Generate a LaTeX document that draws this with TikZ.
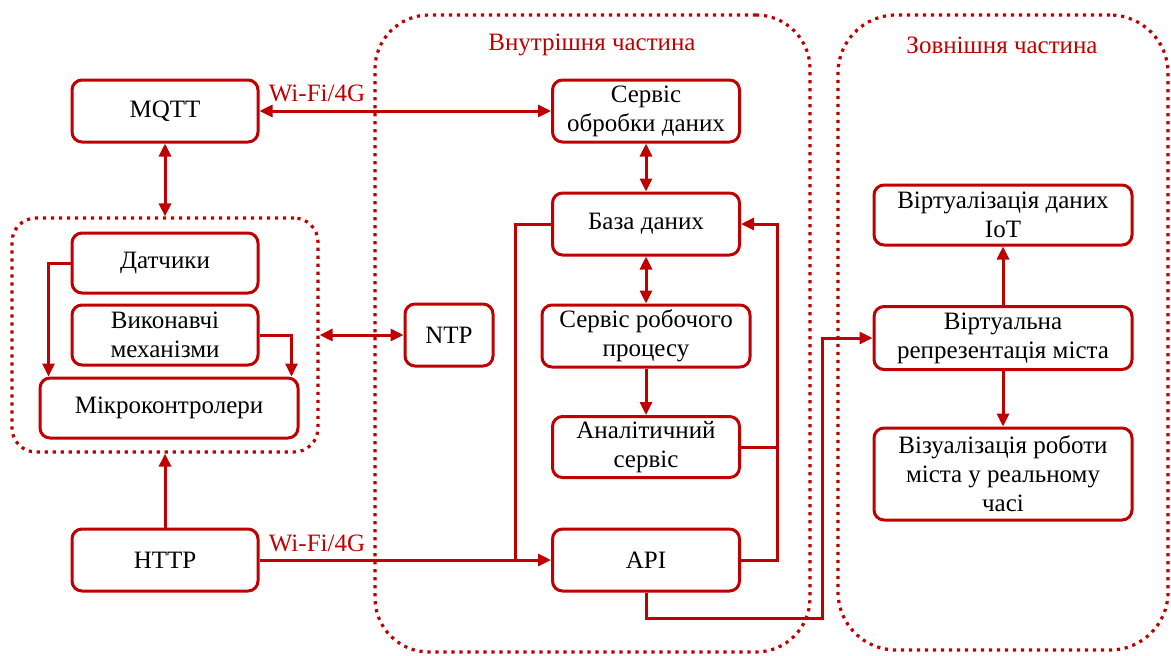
\documentclass[tikz,border=0pt]{standalone}
\usepackage{fontspec}
\setmainfont{Liberation Serif}
\usetikzlibrary{arrows.meta,calc}
\definecolor{dred}{RGB}{192,0,0}
\tikzset{
  box/.style={draw=dred, line width=1.5pt, rounded corners=5pt, fill=white,
    align=center, inner sep=1pt, font=\fontsize{12.5}{14.5}\selectfont},
  link/.style={draw=dred, line width=1.5pt, -{Triangle[length=6.5pt,width=6pt]}},
  blink/.style={draw=dred, line width=1.5pt,
    {Triangle[length=6.5pt,width=6pt]}-{Triangle[length=6.5pt,width=6pt]}},
  plain/.style={draw=dred, line width=1.5pt},
  zone/.style={draw=dred, line width=1.6pt, dash pattern=on 1.6pt off 2.4pt},
  tag/.style={text=dred, font=\fontsize{12.5}{14.5}\selectfont},
}
\begin{document}
\begin{tikzpicture}[x=0.5pt,y=-0.5pt]
\useasboundingbox (0,0) rectangle (1171,655);

% containers
\node[zone, rounded corners=27pt, minimum width=217.5pt, minimum height=318.5pt] (inner) at (592.5,333.5) {};
\node[zone, rounded corners=29pt, minimum width=165pt, minimum height=317.5pt] (outer) at (1003,332.5) {};
\node[zone, rounded corners=12pt, minimum width=153pt, minimum height=117pt] (grp) at (165,335) {};

\node[tag] (tin) at (592,45) {Внутрішня частина};
\node[tag] (tout) at (1002,45) {Зовнішня частина};

% left side
\node[box, minimum width=93pt, minimum height=31pt] (mqtt) at (165,111) {MQTT};
\node[box, minimum width=93pt, minimum height=30pt] (sens) at (165,263) {Датчики};
\node[box, minimum width=93pt, minimum height=30pt] (act) at (165,335) {Виконавчі\\механізми};
\node[box, minimum width=129pt, minimum height=30pt] (mcu) at (169,408) {Мікроконтролери};
\node[box, minimum width=93pt, minimum height=31pt] (http) at (165,560) {HTTP};
\node[box, minimum width=44pt, minimum height=31pt] (ntp) at (449,335) {NTP};

% internal part
\node[box, minimum width=93.5pt, minimum height=31pt] (proc) at (646,111) {Сервіс\\обробки даних};
\node[box, minimum width=93.5pt, minimum height=31pt] (db) at (646,224) {База даних};
\node[box, minimum width=104pt, minimum height=31pt] (wf) at (646,336) {Сервіс робочого\\процесу};
\node[box, minimum width=93.5pt, minimum height=30.5pt] (an) at (646,447) {Аналітичний\\сервіс};
\node[box, minimum width=93.5pt, minimum height=31pt] (api) at (646,560) {API};

% external part
\node[box, minimum width=129pt, minimum height=30pt] (iot) at (1003,215) {Віртуалізація даних\\IoT};
\node[box, minimum width=129pt, minimum height=31.5pt] (virt) at (1003,338) {Віртуальна\\репрезентація міста};
\node[box, minimum width=129pt, minimum height=46pt] (vis) at (1003,474) {Візуалізація роботи\\міста у реальному\\часі};

% connectors
\draw[blink] (mqtt.east) -- (proc.west);
\node[tag] (w1) at (317,93) {Wi-Fi/4G};
\draw[blink] (mqtt.south) -- (grp.north);
\draw[link] (sens.west) -| ($(mcu.north west)+(10,0)$);
\draw[link] (act.east) -| ($(mcu.north east)+(-8,0)$);
\draw[blink] (grp.east) -- (ntp.west);
\draw[link] (http.north) -- (grp.south);
\draw[link] (http.east) -- (api.west);
\node[tag] (w2) at (317,543) {Wi-Fi/4G};
\coordinate (jl) at ($(api.west)+(-36,0)$);
\draw[plain] (db.west) -| (jl);

\draw[blink] (proc.south) -- (db.north);
\draw[blink] (db.south) -- (wf.north);
\draw[link] (wf.south) -- (an.north);

\coordinate (jr) at ($(an.east)+(36,0)$);
\draw[link] (api.east) -- ++(36,0) |- (db.east);
\draw[plain] (an.east) -- (jr);

\draw[link] (api.south) -- ++(0,26) -| ($(virt.west)+(-50,0)$) -- (virt.west);
\draw[link] (virt.north) -- (iot.south);
\draw[link] (virt.south) -- (vis.north);
\end{tikzpicture}
\end{document}
